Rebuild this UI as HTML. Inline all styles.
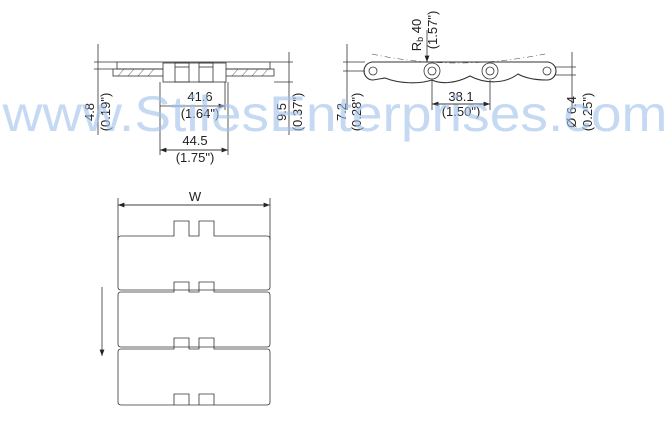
<!DOCTYPE html>
<html><head><style>body{margin:0;background:#fff}svg{display:block}text{font-family:"Liberation Sans",sans-serif;fill:#222}</style></head><body>
<svg width="670" height="425" viewBox="0 0 670 425" xmlns="http://www.w3.org/2000/svg">
<defs><marker id="a" markerWidth="8" markerHeight="6" refX="8" refY="3" orient="auto"><path d="M0,0L8,3L0,6z" fill="#222"/></marker></defs>
<g stroke="#333" stroke-width="0.8" fill="none">
<rect x="117" y="62" width="153" height="7"/>
<rect x="113" y="69" width="161" height="7"/>
<rect x="163" y="63" width="63" height="19" fill="#fff"/>
<rect x="175" y="63" width="14" height="19"/><rect x="199" y="63" width="14" height="19"/>
<line x1="175" y1="67" x2="189" y2="67"/><line x1="199" y1="67" x2="213" y2="67"/>
<path d="M118,76l6,-7M128,76l6,-7M138,76l6,-7M148,76l6,-7M232,76l6,-7M242,76l6,-7M252,76l6,-7M262,76l6,-7" stroke-width="0.5"/>
<line x1="98" y1="44" x2="98" y2="135"/><line x1="94" y1="62" x2="117" y2="62"/><line x1="94" y1="69" x2="113" y2="69"/>
<line x1="289" y1="52" x2="289" y2="135"/><line x1="270" y1="62" x2="293" y2="62"/><line x1="274" y1="82" x2="293" y2="82"/>
<line x1="160" y1="82" x2="160" y2="155"/><line x1="228" y1="82" x2="228" y2="155"/><line x1="225" y1="82" x2="225" y2="110"/>
<line x1="160" y1="106" x2="225" y2="106" marker-end="url(#a)"/>
<line x1="160" y1="150" x2="228" y2="150" marker-end="url(#a)"/><line x1="228" y1="150" x2="160" y2="150" marker-end="url(#a)"/>
<path d="M373,62 L547,62 A9,9 0 0 1 547,80 C535,80 525,78 518,74 C505,84 485,84 470,76 C455,84 440,84 432,80 C420,84 400,84 385,78 L373,80 A9,9 0 0 1 373,62 Z" stroke-width="1.1"/>
<circle cx="373" cy="71" r="4"/><circle cx="432" cy="71" r="8"/><circle cx="432" cy="71" r="4"/><circle cx="490" cy="71" r="8"/><circle cx="490" cy="71" r="4"/><circle cx="547" cy="71" r="4"/>
<path d="M372,54 Q455,72 545,54" stroke-dasharray="6,3,1,3" stroke-width="0.5"/>
<line x1="427" y1="30" x2="427" y2="62" marker-end="url(#a)"/>
<line x1="347" y1="44" x2="347" y2="110"/><line x1="343" y1="62" x2="365" y2="62"/><line x1="343" y1="71" x2="365" y2="71"/>
<line x1="572" y1="52" x2="572" y2="110"/><line x1="555" y1="67" x2="576" y2="67"/><line x1="555" y1="75" x2="576" y2="75"/>
<line x1="432" y1="80" x2="432" y2="110"/><line x1="490" y1="80" x2="490" y2="110"/>
<line x1="432" y1="104" x2="490" y2="104" marker-end="url(#a)"/><line x1="490" y1="104" x2="432" y2="104" marker-end="url(#a)"/>
<line x1="118" y1="198" x2="118" y2="240"/><line x1="270" y1="198" x2="270" y2="240"/>
<line x1="118" y1="205" x2="270" y2="205" marker-end="url(#a)"/><line x1="270" y1="205" x2="118" y2="205" marker-end="url(#a)"/>
<path d="M121,236 H174 V221 H189 V236 H199 V221 H214 V236 H267 Q270,236 270,239 V287 Q270,290 267,290 H121 Q118,290 118,287 V239 Q118,236 121,236Z"/>
<path d="M121,292 H174 V282 H189 V292 H199 V282 H214 V292 H267 Q270,292 270,295 V344 Q270,347 267,347 H121 Q118,347 118,344 V295 Q118,292 121,292Z"/>
<path d="M121,349 H174 V338 H189 V349 H199 V338 H214 V349 H267 Q270,349 270,352 V402 Q270,405 267,405 H121 Q118,405 118,402 V352 Q118,349 121,349Z"/>
<path d="M174,405 V394 H189 V405 M199,405 V394 H214 V405"/>
<line x1="102" y1="287" x2="102" y2="356" marker-end="url(#a)"/>
</g>
<g font-size="13">
<text x="200" y="101" text-anchor="middle">41.6</text><text x="200" y="118" text-anchor="middle">(1.64")</text>
<text x="195" y="145" text-anchor="middle">44.5</text><text x="195" y="162" text-anchor="middle">(1.75")</text>
<text x="461" y="101" text-anchor="middle">38.1</text><text x="461" y="116" text-anchor="middle">(1.50")</text>
<text x="195" y="201" text-anchor="middle">W</text>
<text transform="translate(94,112) rotate(-90)" text-anchor="middle">4.8</text>
<text transform="translate(110,112) rotate(-90)" text-anchor="middle">(0.19")</text>
<text transform="translate(286,112) rotate(-90)" text-anchor="middle">9.5</text>
<text transform="translate(302,112) rotate(-90)" text-anchor="middle">(0.37")</text>
<text transform="translate(346,112) rotate(-90)" text-anchor="middle">7.2</text>
<text transform="translate(361,112) rotate(-90)" text-anchor="middle">(0.28")</text>
<text transform="translate(576,112) rotate(-90)" text-anchor="middle">Ø 6.4</text>
<text transform="translate(592,112) rotate(-90)" text-anchor="middle">(0.25")</text>
<text transform="translate(421,35) rotate(-90)" text-anchor="middle">R<tspan font-size="9" dy="2">b</tspan><tspan dy="-2"> 40</tspan></text>
<text transform="translate(437,30) rotate(-90)" text-anchor="middle">(1.57")</text>
</g>
<text x="335" y="131" text-anchor="middle" font-size="50" style="fill:#9fc0ec;opacity:0.6" textLength="665" lengthAdjust="spacingAndGlyphs">www.StilesEnterprises.com</text>
</svg>
</body></html>
